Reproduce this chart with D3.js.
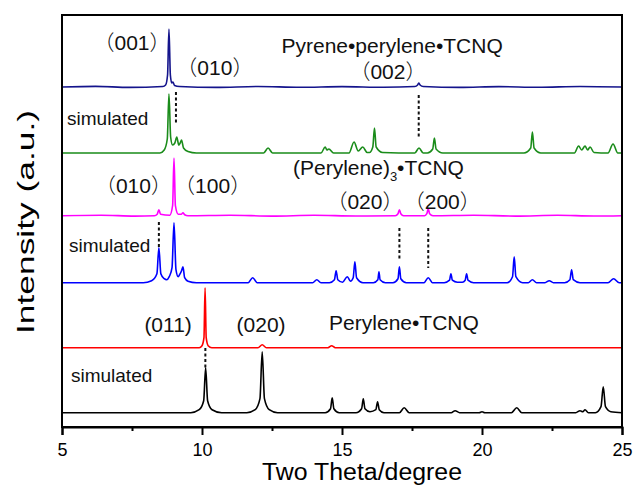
<!DOCTYPE html>
<html><head><meta charset="utf-8">
<script src="https://cdn.jsdelivr.net/npm/d3@7"></script>
<style>
body{margin:0;background:#fff;}
text{font-family:"Liberation Sans",Arial,"Noto Sans CJK SC",sans-serif;}
</style></head>
<body><svg id="c" width="637" height="485"></svg>
<script>
// ---- data (2θ in degrees, intensity in arbitrary units above each trace's baseline) ----
const xTicks = [5, 10, 15, 20, 25];
const xMinorTicks = [7.5, 12.5, 17.5, 22.5];
const seriesNames = ["Pyrene•perylene•TCNQ", "simulated A", "(Perylene)3•TCNQ", "simulated B", "Perylene•TCNQ", "simulated C"];
const seriesColors = ["#14148c", "#1a8c1a", "#ff00ff", "#0000ff", "#ff0000", "#000000"];
const seriesOffsets = [340, 274, 211.3, 144.3, 79.3, 14.3];

const pyrenePeryleneTCNQ = [[5,0],[6.2,0.6],[7.4,-0.4],[8.6,0.5],[8.7,2],[8.77,12],[8.82,58],[8.87,12],[8.92,4],[8.96,5],[9.02,1.5],[9.2,0.5],[10.5,-0.4],[12,0.5],[13.5,-0.3],[15,0.4],[16.5,-0.3],[17.6,0.5],[17.7,2],[17.74,4],[17.79,2],[17.9,0.5],[19.2,-0.4],[20.6,0.4],[22,-0.3],[23.5,0.5],[25,0]];
const simPyrenePerylene = [[5,0],[8.5,0],[8.65,3],[8.76,14],[8.82,59],[8.88,16],[8.95,8],[9.03,10],[9.1,16],[9.17,8],[9.22,10],[9.27,13],[9.34,5],[9.5,1.5],[9.8,0],[12.2,0],[12.36,5],[12.52,0],[14.25,0],[14.4,6],[14.46,3],[14.53,4],[14.7,0],[15.25,0],[15.43,11],[15.58,2],[15.74,6],[15.9,0.5],[15.98,0.5],[16.1,6],[16.16,25],[16.22,6],[16.45,0.5],[17.6,0],[17.75,5],[17.9,0],[18.05,0],[18.24,4],[18.3,15],[18.36,4],[18.6,0],[21.5,0],[21.74,5],[21.8,21],[21.86,5],[22.1,0],[23.3,0],[23.45,7],[23.56,3],[23.68,7],[23.77,3],[23.86,6],[24.0,0.5],[24.5,0],[24.68,9],[24.85,0],[25,0]];
const perylene3TCNQ = [[5,0],[6.4,0.5],[7.6,-0.4],[8.3,0],[8.4,1.5],[8.46,6],[8.52,1.5],[8.85,0.5],[8.95,10],[9.0,57.7],[9.05,10],[9.15,1.5],[9.27,1.5],[9.32,3],[9.38,1],[9.5,0],[11,0.5],[12.5,-0.4],[14,0.4],[15.5,-0.3],[16.9,0],[17.0,2],[17.05,6],[17.1,2],[17.2,0],[17.95,0],[18.03,2],[18.08,7],[18.13,2],[18.25,0],[19.7,0.5],[21.2,-0.4],[22.7,0.4],[24,-0.3],[25,0]];
const simPerylene3 = [[5,0],[7.9,0],[8.2,2],[8.39,9],[8.46,35],[8.53,9],[8.65,4],[8.74,3],[8.83,6],[8.93,15],[9.0,60],[9.07,13],[9.15,6],[9.2,8],[9.27,12],[9.32,16],[9.38,5],[9.5,1.5],[9.8,0],[11.65,0],[11.81,5],[11.97,0],[13.95,0],[14.1,3],[14.25,0],[14.55,0],[14.73,3],[14.79,12],[14.85,3],[15.02,0.5],[15.19,6],[15.3,1.5],[15.4,5],[15.46,21],[15.52,5],[15.75,0],[16.12,0],[16.28,3],[16.32,11],[16.36,3],[16.55,0],[16.82,0],[17.0,4],[17.05,16],[17.1,4],[17.3,0],[17.93,0],[18.08,5],[18.23,0],[18.65,0],[18.84,2.5],[18.89,9],[18.94,2.5],[19.12,0.5],[19.3,0.5],[19.4,2.5],[19.45,9],[19.5,2.5],[19.7,0],[20.9,0],[21.09,6],[21.15,26],[21.21,6],[21.45,0],[21.65,0],[21.8,3],[21.95,0],[22.25,0],[22.4,2],[22.55,0],[22.95,0],[23.14,3],[23.2,13],[23.26,3],[23.5,0],[24.5,0],[24.7,4],[24.9,0],[25,0]];
const peryleneTCNQ = [[5,0],[9.9,0],[10.0,2],[10.07,10],[10.11,60],[10.15,10],[10.22,2],[10.35,0],[12.0,0],[12.15,3],[12.3,0],[14.5,0],[14.63,2],[14.76,0],[25,0]];
const simPerylene = [[5,0],[9.6,0],[9.9,3],[10.06,12],[10.13,45],[10.2,12],[10.36,3],[10.7,0],[11.6,0],[11.9,3],[12.07,14],[12.15,61],[12.23,14],[12.4,3],[12.7,0],[14.4,0],[14.59,4],[14.65,15],[14.71,4],[14.9,0],[15.5,0],[15.7,4],[15.76,14],[15.82,4],[16.0,1],[16.21,3],[16.27,11],[16.33,3],[16.5,0],[17.05,0],[17.22,5],[17.4,0],[18.9,0],[19.04,2],[19.2,0],[19.9,0],[20.0,1],[20.1,0],[21.05,0],[21.24,5],[21.42,0],[23.35,0],[23.5,2],[23.6,1],[23.68,3],[23.8,0],[24.05,0],[24.25,6],[24.33,26],[24.41,6],[24.6,1],[25,0]];
const seriesData = [pyrenePeryleneTCNQ, simPyrenePerylene, perylene3TCNQ, simPerylene3, peryleneTCNQ, simPerylene];

// dashed peak-matching guides: 2θ, top and bottom (in the stacked intensity units)
const guideX = [9.07, 17.74, 8.46, 17.05, 18.08, 10.12];
const guideTop = [335, 332, 205, 199, 199, 79];
const guideBottom = [304, 290, 179, 167, 159, 59];

// annotations: text, 2θ, stacked intensity, anchor
const labelText = ["（001）", "（010）", "Pyrene•perylene•TCNQ", "（002）", "simulated", "（010）", "（100）", "(Perylene)|3|•TCNQ", "（020）", "（200）", "simulated", "(011)", "(020)", "Perylene•TCNQ", "simulated"];
const labelX = [7.5, 10.46, 16.79, 16.64, 5.18, 7.55, 10.38, 13.25, 15.82, 18.58, 5.25, 8.79, 12.11, 14.54, 5.32];
const labelY = [377, 352, 374, 348, 302, 234, 234, 252, 218, 218, 175, 95, 95, 97, 45];
const labelAnchor = ["middle","middle","middle","middle","start","middle","middle","start","middle","middle","start","middle","middle","start","start"];
const labelKind = ["peak","peak","name","peak","sim","peak","peak","name","peak","peak","sim","peak","peak","name","sim"];

// ---- drawing ----
const svg = d3.select("#c");
const x = d3.scaleLinear().domain([5, 25]).range([62, 622]);
const y = d3.scaleLinear().domain([0, 412]).range([427, 15]);

const line = d3.line().curve(d3.curveMonotoneX);
seriesData.forEach((s, i) => {
  svg.append("path")
    .attr("d", line.x(d => x(d[0])).y(d => y(d[1] + seriesOffsets[i]))(s))
    .attr("fill", "none").attr("stroke", seriesColors[i])
    .attr("stroke-width", 1.6).attr("stroke-linejoin", "round");
});

guideX.forEach((g, i) => {
  svg.append("line")
    .attr("x1", x(g)).attr("x2", x(g))
    .attr("y1", y(guideTop[i])).attr("y2", y(guideBottom[i]))
    .attr("stroke", "#111").attr("stroke-width", 2).attr("stroke-dasharray", "3,2.5");
});

const fs = {peak: 21, name: 21, sim: 19};
labelText.forEach((t, i) => {
  const tx = svg.append("text")
    .attr("x", x(labelX[i])).attr("y", y(labelY[i]))
    .attr("text-anchor", labelAnchor[i])
    .attr("font-size", fs[labelKind[i]]).attr("fill", "#111");
  const parts = t.split("|");
  if (parts.length === 3) {
    tx.append("tspan").text(parts[0]);
    tx.append("tspan").attr("font-size", 13).attr("dy", 6).text(parts[1]);
    tx.append("tspan").attr("dy", -6).text(parts[2]);
  } else if (t.includes("（")) {
    // full-width brackets drawn in the CJK face, digits in the Latin face
    const inner = t.slice(1, -1);
    tx.append("tspan").style("font-family", '"Noto Sans CJK SC"').attr("font-weight", 300).text("（");
    tx.append("tspan").text(inner);
    tx.append("tspan").style("font-family", '"Noto Sans CJK SC"').attr("font-weight", 300).text("）");
  } else {
    tx.text(t);
  }
});

// frame
svg.append("rect").attr("x", 62).attr("y", 15).attr("width", 560).attr("height", 412)
  .attr("fill", "none").attr("stroke", "#000").attr("stroke-width", 2);

// x axis
const ax = svg.append("g").attr("transform", "translate(0,427)")
  .call(d3.axisBottom(x).tickValues(xTicks).tickSize(8).tickPadding(8).tickFormat(d3.format("d")));
ax.select(".domain").attr("stroke-width", 2);
ax.selectAll(".tick line").attr("stroke-width", 2);
ax.selectAll(".tick text").attr("font-size", 18).attr("fill", "#000")
  .style("font-family", '"Liberation Sans",Arial,sans-serif');
const axm = svg.append("g").attr("transform", "translate(0,427)")
  .call(d3.axisBottom(x).tickValues(xMinorTicks).tickSize(4).tickFormat(""));
axm.select(".domain").remove();
axm.selectAll(".tick line").attr("stroke-width", 2);

svg.append("text").attr("x", 262).attr("y", 480).attr("font-size", 23).attr("fill", "#000")
  .attr("textLength", 200).attr("lengthAdjust", "spacingAndGlyphs")
  .text("Two Theta/degree");
svg.append("text").attr("transform", "translate(34,222) rotate(-90)")
  .attr("text-anchor", "middle").attr("font-size", 24).attr("fill", "#000")
  .attr("textLength", 224).attr("lengthAdjust", "spacingAndGlyphs")
  .text("Intensity (a.u.)");
</script></body></html>
